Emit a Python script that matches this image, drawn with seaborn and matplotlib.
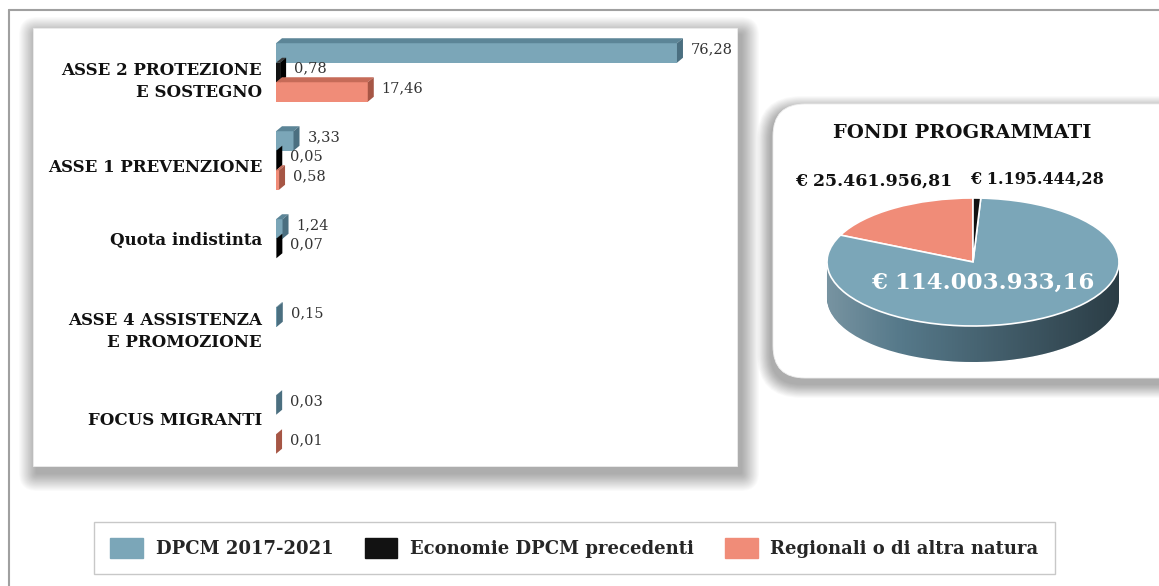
import numpy as np
import pandas as pd
import matplotlib
matplotlib.use("Agg")
import matplotlib.pyplot as plt
import matplotlib.patches as mpatches
import matplotlib.transforms as mtransforms
from matplotlib.lines import Line2D
import seaborn as sns

# ---------------- data ----------------
categories = ["ASSE 2 PROTEZIONE\nE SOSTEGNO", "ASSE 1 PREVENZIONE", "Quota indistinta",
              "ASSE 4 ASSISTENZA\nE PROMOZIONE", "FOCUS MIGRANTI"]
series = ["DPCM 2017-2021", "Economie DPCM precedenti", "Regionali o di altra natura"]
dpcm = [76.28, 3.33, 1.24, 0.15, 0.03]
economie = [0.78, 0.05, 0.07, np.nan, np.nan]
regionali = [17.46, 0.58, np.nan, np.nan, 0.01]

pie_title = "FONDI PROGRAMMATI"
pie_series = ["Regionali o di altra natura", "DPCM 2017-2021", "Economie DPCM precedenti"]
pie_values = [25461956.81, 114003933.16, 1195444.28]

# ---------------- style ----------------
front = {"DPCM 2017-2021": "#7BA6B8", "Economie DPCM precedenti": "#121212",
         "Regionali o di altra natura": "#F08C78"}
topc = {"DPCM 2017-2021": "#5C8597", "Economie DPCM precedenti": "#3A3A3A",
        "Regionali o di altra natura": "#C66B58"}
sidec = {"DPCM 2017-2021": "#4B6F80", "Economie DPCM precedenti": "#000000",
         "Regionali o di altra natura": "#A65645"}
pie_side = {"DPCM 2017-2021": "#56798A", "Economie DPCM precedenti": "#000000",
            "Regionali o di altra natura": "#A65645"}
label_shift_px = [9, 7, -8, -5, -4]   # fine vertical placement of the category labels

sns.set_theme(style="white")
plt.rcParams["font.family"] = ["DejaVu Serif", "DejaVu Sans"]

W, H = 1159, 586
fig = plt.figure(figsize=(W / 100, H / 100), dpi=100)
fig.patch.set_facecolor("white")
ID = mtransforms.IdentityTransform()


def pbox(x0, y0, x1, y1, **kw):
    """rectangle given in top-origin pixel coordinates"""
    return mpatches.FancyBboxPatch((x0, H - y1), x1 - x0, y1 - y0, transform=ID, **kw)


def shadow(x0, y0, x1, y1, off=(5, 7), blur=18, n=22, alpha=0.016, rounding=0.0, z=-20):
    for i in range(n):
        e = blur * (1 - i / n)
        r = rounding + e
        style = f"round,pad=0,rounding_size={r}" if r > 0 else "square,pad=0"
        fig.add_artist(pbox(x0 + off[0] - e, y0 + off[1] - e, x1 + off[0] + e, y1 + off[1] + e,
                            boxstyle=style, fc="black", ec="none", alpha=alpha, zorder=z))


# slide frame
fig.add_artist(Line2D([9, W], [H - 10, H - 10], transform=ID, color="#a0a0a0", lw=1.5, zorder=-30))
fig.add_artist(Line2D([9, 9], [H - 10, 0], transform=ID, color="#a0a0a0", lw=1.5, zorder=-30))

# left panel
shadow(33, 28, 737, 466, off=(4, 7), blur=18)
fig.add_artist(pbox(33, 28, 737, 466, boxstyle="square,pad=0", fc="white", ec="#ececec",
                    lw=0.6, zorder=-5))

# pie panel
shadow(773, 104, 1200, 378, off=(-2, 6), blur=14, rounding=30)
fig.add_artist(pbox(773, 104, 1200, 378, boxstyle="round,pad=0,rounding_size=32", fc="white",
                    ec="#eeeeee", lw=0.6, zorder=-5))

# ---------------- bar chart ----------------
ax = fig.add_axes([276 / W, (H - 468.5) / H, 461 / W, 440 / H])
ax.set_facecolor("none")

df = pd.DataFrame({
    "categoria": categories * 3,
    "serie": np.repeat(series, len(categories)),
    "valore": dpcm + economie + regionali,
}).dropna()

sns.barplot(data=df, y="categoria", x="valore", hue="serie", order=categories,
            hue_order=series, palette=front, orient="h", width=0.665, gap=0,
            saturation=1, errorbar=None, legend=False, linewidth=0, ax=ax)

ax.set_xlim(0, 87.7)
ax.set_ylim(4.5, -0.5)
ax.set_xlabel("")
ax.set_ylabel("")
ax.set_xticks([])
for s in ax.spines.values():
    s.set_visible(False)
ax.tick_params(axis="y", length=0)
ax.set_yticks(range(len(categories)))
ax.set_yticklabels([])
for i, (cat, sh) in enumerate(zip(categories, label_shift_px)):
    ax.annotate(cat, xy=(0, i), xycoords=("axes fraction", "data"), xytext=(-14, -sh),
                textcoords="offset pixels", ha="right", va="center", ma="right",
                fontsize=12, fontweight="bold", color="#111111", linespacing=1.35,
                annotation_clip=False)

dx, dy = 6, 5
for cont, s in zip(ax.containers, series):
    for bar in cont:
        w = bar.get_width()
        if not (np.isfinite(w) and w > 0):
            continue
        x0, y0 = bar.get_xy()
        h = bar.get_height()
        pts = ax.transData.transform([[x0, y0], [x0 + w, y0 + h]])
        xmin, xmax = sorted(pts[:, 0])
        ymin, ymax = sorted(pts[:, 1])
        top = mpatches.Polygon([[xmin, ymax], [xmax, ymax], [xmax + dx, ymax + dy], [xmin + dx, ymax + dy]],
                               closed=True, transform=ID, fc=topc[s], ec="none", zorder=3, clip_on=False)
        side = mpatches.Polygon([[xmax, ymin], [xmax, ymax], [xmax + dx, ymax + dy], [xmax + dx, ymin + dy]],
                                closed=True, transform=ID, fc=sidec[s], ec="none", zorder=3, clip_on=False)
        ax.add_patch(top)
        ax.add_patch(side)
    labels = [f"{v:.2f}".replace(".", ",") for v in cont.datavalues]
    anns = ax.bar_label(cont, labels=labels, padding=10, fontsize=10.5, color="#333333")
    for a in anns:
        a.xyann = (10, 3)

# ---------------- pie ----------------
cx, cy, a_px, b_px, depth_px = 973, 262, 146, 64, 36
depth = depth_px / b_px
pax = fig.add_axes([(cx - 1.25 * a_px) / W, (H - (cy + (1.25 + depth) * b_px)) / H,
                    2.5 * a_px / W, (2.5 + depth) * b_px / H])
pax.set_facecolor("none")

for k in np.linspace(depth, 0.0, 40)[:-1]:
    wedges, _ = pax.pie(pie_values, colors=[pie_side[s] for s in pie_series], startangle=90,
                        counterclock=True, center=(0, -k), radius=1,
                        wedgeprops=dict(ec="none", lw=0))
    for wdg in wedges:
        wdg.set_zorder(1)

# gradient shading of the pie's side wall
t = np.linspace(np.pi, 2 * np.pi, 200)
band = np.vstack([np.column_stack([np.cos(t), np.sin(t)]),
                  np.column_stack([np.cos(t[::-1]), np.sin(t[::-1]) - depth])])
clip = mpatches.Polygon(band, closed=True, transform=pax.transData, fc="none", ec="none")
pax.add_patch(clip)
grad = np.zeros((1, 256, 4))
g = np.linspace(0, 1, 256)
grad[0, :, :3] = np.where(g[:, None] < 0.25, 1.0, 0.0)
grad[0, :, 3] = np.where(g < 0.25, 0.2 * (1 - g / 0.25), 0.5 * (g - 0.25) / 0.75)
im = pax.imshow(grad, extent=(-1, 1, -1 - depth, 0), aspect="auto", zorder=1.5,
                interpolation="bilinear")
im.set_clip_path(clip)

wedges, _ = pax.pie(pie_values, colors=[front[s] for s in pie_series], startangle=90,
                    counterclock=True, radius=1, wedgeprops=dict(ec="white", lw=1.2))
for wdg in wedges:
    wdg.set_zorder(3)

pax.set_aspect("auto")
pax.set_xlim(-1.25, 1.25)
pax.set_ylim(-1.25 - depth, 1.25)
pax.axis("off")


def euro(v):
    return "€ " + f"{v:,.2f}".replace(",", "X").replace(".", ",").replace("X", ".")


pax.text(-0.075, 2.02, pie_title, ha="center", va="center", fontsize=14, fontweight="bold",
         color="#111111", clip_on=False)
pax.text(-0.68, 1.26, euro(pie_values[0]), ha="center", va="center", fontsize=12.5,
         fontweight="bold", color="#111111", clip_on=False)
pax.text(0.44, 1.29, euro(pie_values[2]), ha="center", va="center", fontsize=11.5,
         fontweight="bold", color="#111111", clip_on=False)
pax.text(0.07, -0.33, euro(pie_values[1]), ha="center", va="center", fontsize=16.5,
         fontweight="bold", color="white", clip_on=False, zorder=5)

# ---------------- legend ----------------
handles = [mpatches.Patch(color=front[s], label=s) for s in series]
leg = fig.legend(handles=handles, loc="center", bbox_to_anchor=(574.5 / W, (H - 548) / H),
                 ncol=3, frameon=True, fancybox=False, edgecolor="#c8c8c8", framealpha=1,
                 prop=dict(family="DejaVu Serif", weight="bold", size=13),
                 handlelength=1.8, handleheight=1.3, handletextpad=0.7, columnspacing=1.75,
                 borderpad=0.9)
leg.get_frame().set_linewidth(1.0)

fig.savefig("out.png", dpi=100, facecolor="white")
